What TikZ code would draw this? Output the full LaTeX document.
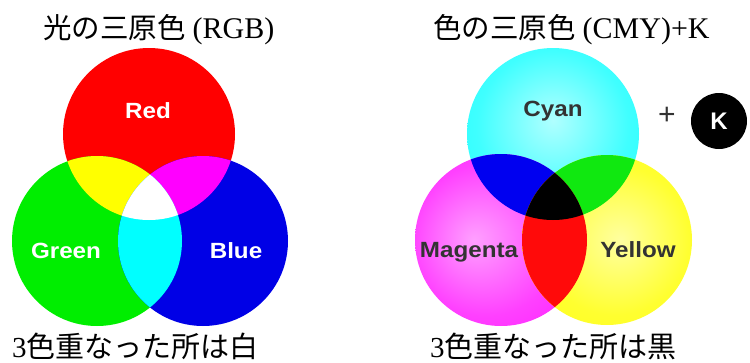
\documentclass[tikz,border=0pt]{standalone}
\usepackage{fontspec}
\usepackage{graphicx}
\setmainfont{Liberation Serif}
\newfontfamily\jp{Noto Sans CJK JP}
\newfontfamily\lab{Liberation Sans}
\definecolor{cR}{HTML}{FF0000}
\definecolor{cG}{HTML}{00EE00}
\definecolor{cB}{HTML}{0000E6}
\definecolor{cY}{HTML}{FFFF00}
\definecolor{cM}{HTML}{FF00FF}
\definecolor{cC}{HTML}{00FFFF}
\definecolor{cyIn}{HTML}{B0FFFF}
\definecolor{cyMid}{HTML}{40FFFF}
\definecolor{mgIn}{HTML}{FFA0FF}
\definecolor{mgMid}{HTML}{FF40FF}
\definecolor{ylIn}{HTML}{FFFFA0}
\definecolor{ylMid}{HTML}{FFFF30}
\definecolor{ovB}{HTML}{0000F0}
\definecolor{ovG}{HTML}{10E810}
\definecolor{ovR}{HTML}{FF0A0A}
\definecolor{darktext}{HTML}{333333}
\pgfdeclareradialshading{cyshade}{\pgfpoint{0bp}{4bp}}{color(0bp)=(cyIn); color(22bp)=(cyMid); color(50bp)=(cC)}
\pgfdeclareradialshading{mgshade}{\pgfpoint{-8bp}{0bp}}{color(0bp)=(mgIn); color(22bp)=(mgMid); color(50bp)=(cM)}
\pgfdeclareradialshading{ylshade}{\pgfpoint{4bp}{0bp}}{color(0bp)=(ylIn); color(22bp)=(ylMid); color(50bp)=(cY)}
\newcommand{\latn}[1]{{\fontsize{30}{30}\selectfont #1}}
\begin{document}
\begin{tikzpicture}[x=1pt,y=-1pt,
  lbl/.style={font=\lab\bfseries\fontsize{22}{22}\selectfont, inner sep=0, anchor=base},
  ttl/.style={font=\fontsize{28.5}{30}\selectfont, inner sep=0, anchor=base west},
  captext/.style={font=\fontsize{29}{30}\selectfont, inner sep=0, anchor=base west}]
\useasboundingbox (0,0) rectangle (750,362);
% ---------- RGB ----------
\coordinate (rc) at (149,134);
\coordinate (gc) at (97,241);
\coordinate (bc) at (203,241);
\fill[cR] (rc) circle (86);
\fill[cG] (gc) circle (85);
\fill[cB] (bc) circle (85);
\begin{scope}
  \clip (rc) circle (86);
  \fill[cY] (gc) circle (85);
  \fill[cM] (bc) circle (85);
\end{scope}
\begin{scope}
  \clip (gc) circle (85);
  \fill[cC] (bc) circle (85);
  \clip (bc) circle (85);
  \fill[white] (rc) circle (86);
\end{scope}
\node[lbl, text=white] (red) at (148,118) {\scalebox{1.1}[1]{Red}};
\node[lbl, text=white] (green) at (66,258) {\scalebox{1.1}[1]{Green}};
\node[lbl, text=white] (blue) at (236,258) {\scalebox{1.1}[1]{Blue}};
% ---------- CMY ----------
\coordinate (cc) at (553,134);
\coordinate (mc) at (501,240);
\coordinate (yc) at (607,240);
\shade[shading=cyshade] (cc) circle (86);
\shade[shading=mgshade] (mc) circle (86);
\shade[shading=ylshade] (yc) circle (85);
\begin{scope}
  \clip (cc) circle (86);
  \fill[ovB] (mc) circle (86);
  \fill[ovG] (yc) circle (85);
\end{scope}
\begin{scope}
  \clip (mc) circle (86);
  \fill[ovR] (yc) circle (85);
  \clip (yc) circle (85);
  \fill[black] (cc) circle (86);
\end{scope}
\node[lbl, text=darktext] (cyan) at (553,116) {\scalebox{1.1}[1]{Cyan}};
\node[lbl, text=darktext] (magenta) at (469,257) {\scalebox{1.1}[1]{Magenta}};
\node[lbl, text=darktext] (yellow) at (638,257) {\scalebox{1.1}[1]{Yellow}};
\node[font=\lab\fontsize{30}{30}\selectfont, text=darktext, inner sep=0] (plus) at (667,116) {+};
\fill[black] (719,121) circle (28);
\node[lbl, text=white, font=\lab\bfseries\fontsize{24}{24}\selectfont] (k) at (719,129.5) {K};
% ---------- texts ----------
\node[ttl] (t1) at (43,38) {{\jp 光の三原色}\hspace{7pt}\latn{(RGB)}};
\node[ttl] (t2) at (433,38) {{\jp 色の三原色}\hspace{7pt}\latn{(CMY)+K}};
\node[captext] (b1) at (12,357) {3{\jp 色重なった所は白}};
\node[captext] (b2) at (430,357) {3{\jp 色重なった所は黒}};
\end{tikzpicture}
\end{document}
